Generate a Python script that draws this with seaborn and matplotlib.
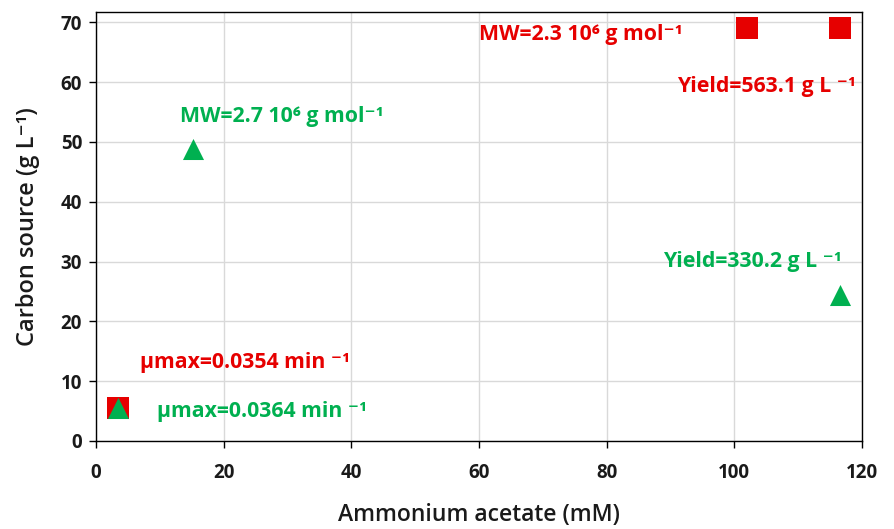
import matplotlib
matplotlib.use("Agg")
import matplotlib.pyplot as plt
import seaborn as sns
import pandas as pd

# Data
red_x = [3.4, 102.0, 116.6]
red_y = [5.5, 69.1, 69.1]
green_x = [3.4, 15.2, 116.6]
green_y = [5.5, 48.8, 24.4]
x_ticks = [0, 20, 40, 60, 80, 100, 120]
y_ticks = [0, 10, 20, 30, 40, 50, 60, 70]

red_labels = ["MW=2.3 10\u2076 g mol\u207b\u00b9", "Yield=563.1 g L \u207b\u00b9", "\u03bcmax=0.0354 min \u207b\u00b9"]
green_labels = ["MW=2.7 10\u2076 g mol\u207b\u00b9", "Yield=330.2 g L \u207b\u00b9", "\u03bcmax=0.0364 min \u207b\u00b9"]

RED = "#e60000"
GREEN = "#00b050"

sns.set_theme(style="white")
plt.rcParams['font.family'] = ['Open Sans', 'DejaVu Sans']

fig = plt.figure(figsize=(8.95, 5.29), dpi=100)
ax = fig.add_axes([96/895, (529-441)/529, (862-96)/895, (441-12)/529])

red_df = pd.DataFrame({"x": red_x, "y": red_y})
green_df = pd.DataFrame({"x": green_x, "y": green_y})

sns.scatterplot(data=red_df, x="x", y="y", marker="s", s=250, color=RED,
                edgecolor=RED, linewidth=0, ax=ax, zorder=3)
sns.scatterplot(data=green_df, x="x", y="y", marker="^", s=230, color=GREEN,
                edgecolor=GREEN, linewidth=0, ax=ax, zorder=4)

ax.set_xlim(0, 120)
ax.set_ylim(0, 71.7)
ax.set_xticks(x_ticks)
ax.set_yticks(y_ticks)
ax.grid(True, color="#d9d9d9", linewidth=1)
ax.set_axisbelow(True)
for sp in ax.spines.values():
    sp.set_visible(True)
    sp.set_color("black")
    sp.set_linewidth(1)

ax.tick_params(axis="both", which="major", direction="out", length=5, width=1,
               color="black", labelsize=13.5, labelcolor="#1a1a1a", bottom=True, left=True)
ax.tick_params(axis="x", pad=11)
ax.tick_params(axis="y", pad=5)
for lab in ax.get_xticklabels() + ax.get_yticklabels():
    lab.set_fontweight("bold")

ax.set_xlabel("Ammonium acetate (mM)", fontsize=16.5, fontweight="semibold", color="#1a1a1a", labelpad=14)
ax.set_ylabel("Carbon source (g L\u207b\u00b9)", fontsize=17, fontweight="semibold", color="#1a1a1a", labelpad=15)

fs = 15.3
# Red annotations
ax.text(60.0, 68.0, red_labels[0], color=RED, fontsize=fs, fontweight="bold", va="center", ha="left")
ax.text(91.1, 59.3, red_labels[1], color=RED, fontsize=fs, fontweight="bold", va="center", ha="left")
ax.text(6.9, 13.2, red_labels[2], color=RED, fontsize=fs, fontweight="bold", va="center", ha="left")
# Green annotations
ax.text(13.2, 54.2, green_labels[0], color=GREEN, fontsize=fs, fontweight="bold", va="center", ha="left")
ax.text(88.9, 30.0, green_labels[1], color=GREEN, fontsize=fs, fontweight="bold", va="center", ha="left")
ax.text(9.6, 4.9, green_labels[2], color=GREEN, fontsize=fs, fontweight="bold", va="center", ha="left")

fig.savefig("out.png", dpi=100)
